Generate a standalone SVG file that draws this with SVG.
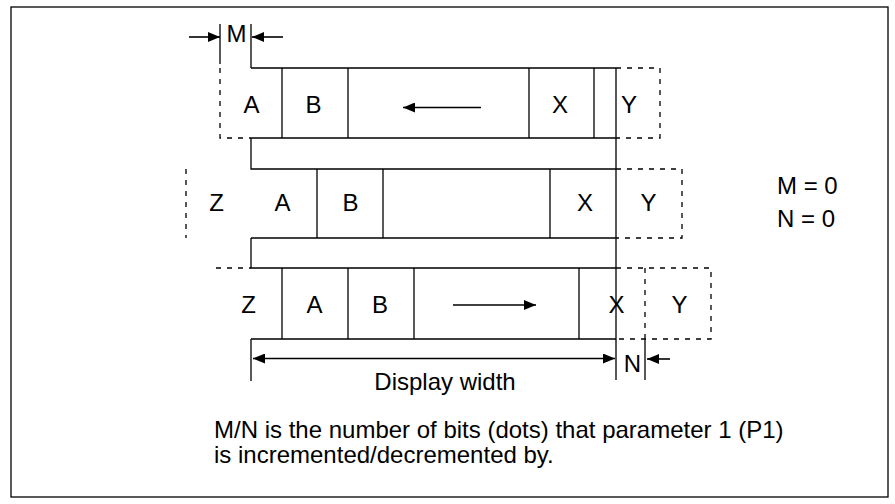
<svg xmlns="http://www.w3.org/2000/svg" width="895" height="504" viewBox="0 0 895 504">
<style>
.s{fill:none;stroke:#000;stroke-width:1.3}
.d{fill:none;stroke:#000;stroke-width:1.3;stroke-dasharray:5 6}
.a{fill:none;stroke:#000;stroke-width:1.6}
text{font-family:"Liberation Sans",Arial,sans-serif;font-size:24px;fill:#000}
.c{text-anchor:middle}
</style>
<defs>
<marker id="ah" viewBox="0 0 12 10" refX="12" refY="5" markerWidth="12" markerHeight="10" markerUnits="userSpaceOnUse" orient="auto-start-reverse"><path d="M0,0L12,5L0,10z" fill="#000"/></marker>
</defs>
<rect id="frame" x="11" y="7" width="877" height="490" class="s"/>
<g id="row1">
<path class="s" d="M251,68H616M251,138H616M282,68V138M348,68V138M529,68V138M594,68V138"/>
<path class="d" d="M220,68V138H251M616,68H660V138H616"/>
<text class="c" x="251.5" y="112.5">A</text>
<text class="c" x="313.5" y="112.5">B</text>
<text class="c" x="560" y="112.5">X</text>
<text class="c" x="629" y="112.5">Y</text>
</g>
<g id="bar1"><path class="s" d="M251,138V169H616"/></g>
<g id="row2">
<path class="s" d="M251,238H616M317,169V238M383,169V238M550,169V238"/>
<path class="d" d="M186,169V238M616,169H682V238H616"/>
<text class="c" x="216.5" y="210.5">Z</text>
<text class="c" x="282.5" y="210.5">A</text>
<text class="c" x="350.5" y="210.5">B</text>
<text class="c" x="585" y="210.5">X</text>
<text class="c" x="648.5" y="210.5">Y</text>
</g>
<g id="bar2"><path class="s" d="M251,238V268H616"/></g>
<g id="row3">
<path class="s" d="M251,339H616M282,268V339M348,268V339M414,268V339M579,268V339"/>
<path class="d" d="M216,268H251M616,268H711V339H616M645,268V339"/>
<text class="c" x="248.5" y="312.5">Z</text>
<text class="c" x="314.5" y="312.5">A</text>
<text class="c" x="380" y="312.5">B</text>
<text class="c" x="616.5" y="312.5">X</text>
<text class="c" x="679.5" y="312.5">Y</text>
</g>
<g id="markers">
<path class="s" d="M220,24V64M251,24V68M616,68V380M251,339V381M645,339V380"/>
<text class="c" x="236.5" y="42">M</text>
<text class="c" x="445" y="390">Display width</text>
<text class="c" x="632.5" y="372">N</text>
</g>
<g id="connectors">
<line class="a" x1="189" y1="37" x2="220" y2="37" marker-end="url(#ah)"/>
<line class="a" x1="283" y1="37" x2="252" y2="37" marker-end="url(#ah)"/>
<line class="a" x1="481" y1="107.5" x2="403" y2="107.5" marker-end="url(#ah)"/>
<line class="a" x1="453" y1="305" x2="536" y2="305" marker-end="url(#ah)"/>
<line class="a" x1="253" y1="358.5" x2="615" y2="358.5" marker-start="url(#ah)" marker-end="url(#ah)"/>
<line class="a" x1="670" y1="359" x2="647" y2="359" marker-end="url(#ah)"/>
</g>
<g id="legend">
<text x="777" y="194">M = 0</text>
<text x="777" y="227">N = 0</text>
</g>
<g id="note">
<text x="214" y="438">M/N is the number of bits (dots) that parameter 1 (P1)</text>
<text x="214" y="462.5">is incremented/decremented by.</text>
</g>
</svg>
